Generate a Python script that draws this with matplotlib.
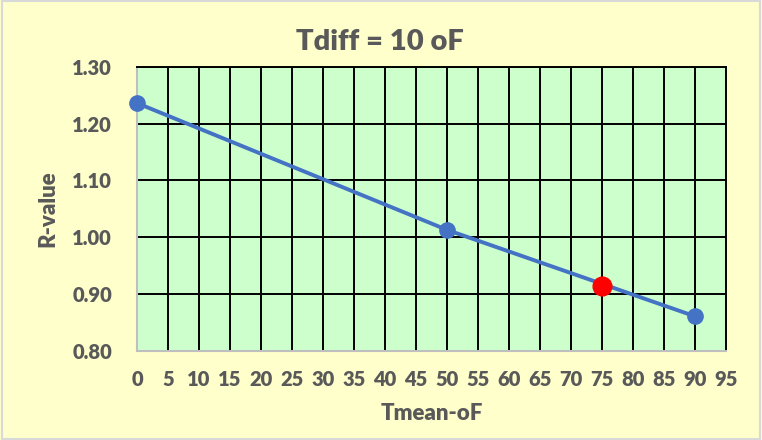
import matplotlib.pyplot as plt
import numpy as np
from matplotlib.patches import Rectangle

# data
tmean = [0, 50, 90]
rvalue = [1.236, 1.013, 0.861]
pick_t = [75]
pick_r = [0.915]

xticks = np.arange(0, 100, 5)
yticks = [0.80, 0.90, 1.00, 1.10, 1.20, 1.30]

txt = '#595959'
plt.rcParams['font.family'] = ['Lato', 'DejaVu Sans']
plt.rcParams['font.weight'] = 'heavy'

fig = plt.figure(figsize=(7.62, 4.40), dpi=100, facecolor='#FFFFCC')
ax = fig.add_axes([0.1798, 0.2023, 0.7730, 0.6461])
ax.set_facecolor('#CCFFCC')

fig.patches.append(Rectangle((0.002, 0.003), 0.996, 0.994, transform=fig.transFigure,
                             fill=False, edgecolor='#D9D9D9', linewidth=1.5))

ax.plot(tmean, rvalue, color='#4472C4', linewidth=2.8, marker='o',
        markersize=11, zorder=3, clip_on=False)
ax.plot(pick_t, pick_r, 'o', color='#FF0000', markersize=13.5, zorder=4)

ax.set_xlim(0, 95)
ax.set_ylim(0.80, 1.30)
ax.set_xticks(xticks)
ax.set_yticks(yticks)
ax.set_yticklabels([f'{v:.2f}' for v in yticks])
ax.grid(True, color='black', linewidth=1.4)
ax.set_axisbelow(True)
ax.tick_params(length=0, labelsize=14.5, colors=txt, pad=14)
ax.tick_params(axis='y', pad=18)
for lab in ax.get_xticklabels() + ax.get_yticklabels():
    lab.set_fontweight('heavy')

for s in ['top', 'right']:
    ax.spines[s].set_color('black')
    ax.spines[s].set_linewidth(1.4)
for s in ['left', 'bottom']:
    ax.spines[s].set_color('#BFBFBF')
    ax.spines[s].set_linewidth(1.5)

fig.text(0.499, 0.905, 'Tdiff = 10 oF', ha='center', va='center',
         fontsize=21, fontweight='heavy', color=txt)
ax.set_xlabel('Tmean-oF', fontsize=16, fontweight='heavy', color=txt, labelpad=10)
ax.set_ylabel('R-value', fontsize=16, fontweight='heavy', color=txt, labelpad=10)

fig.savefig('out.png', dpi=100, facecolor=fig.get_facecolor())
